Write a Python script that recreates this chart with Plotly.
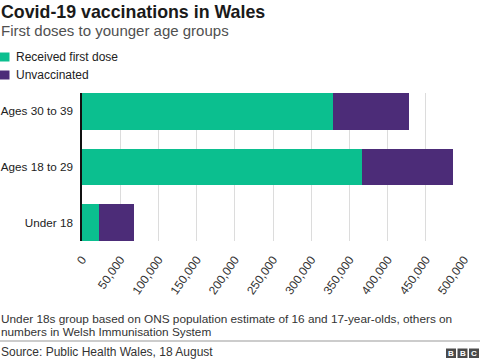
import plotly.graph_objects as go

# Data
categories = ["Under 18", "Ages 18 to 29", "Ages 30 to 39"]
first_dose = [21600, 367000, 328700]
unvaccinated = [46700, 118000, 99700]
series_names = ["Received first dose", "Unvaccinated"]
series_colors = ["#0BBF8F", "#4C2C78"]
x_ticks = [0, 50000, 100000, 150000, 200000, 250000, 300000, 350000, 400000, 450000, 500000]
x_tick_labels = ["0", "50,000", "100,000", "150,000", "200,000", "250,000",
                 "300,000", "350,000", "400,000", "450,000", "500,000"]

W, H = 480, 362
ML, MR, MT, MB = 82, 16, 93, 121
PW = W - ML - MR
PH = H - MT - MB


def px(x):
    return (x - ML) / PW


def py(y):
    return (H - MB - y) / PH


FONT = "Liberation Sans, Arial, sans-serif"

fig = go.Figure()
for name, vals, col in zip(series_names, [first_dose, unvaccinated], series_colors):
    fig.add_trace(go.Bar(
        y=categories, x=vals, name=name, orientation="h",
        marker=dict(color=col, line=dict(width=0)),
        hoverinfo="x+name",
    ))

shapes = []
annotations = []

# Title / subtitle
annotations.append(dict(text="<b>Covid-19 vaccinations in Wales</b>", x=px(-1), y=py(11.5),
                        xref="paper", yref="paper", xanchor="left", yanchor="middle",
                        showarrow=False, font=dict(family=FONT, size=17.8, color="#1a1a1a")))
annotations.append(dict(text="First doses to younger age groups", x=px(-1), y=py(30),
                        xref="paper", yref="paper", xanchor="left", yanchor="middle",
                        showarrow=False, font=dict(family=FONT, size=15, color="#505050")))

# Legend (manual, from series lists)
leg_y = [57, 75]
for name, col, yy in zip(series_names, series_colors, leg_y):
    shapes.append(dict(type="rect", xref="paper", yref="paper",
                       x0=px(0), x1=px(9.5), y0=py(yy - 4.5), y1=py(yy + 4.5),
                       fillcolor=col, line=dict(width=0)))
    annotations.append(dict(text=name, x=px(13.5), y=py(yy), xref="paper", yref="paper",
                            xanchor="left", yanchor="middle", showarrow=False,
                            font=dict(family=FONT, size=12, color="#222222")))

# Footnote
annotations.append(dict(text="Under 18s group based on ONS population estimate of 16 and 17-year-olds, others on",
                        x=px(-1), y=py(318.5), xref="paper", yref="paper", xanchor="left", yanchor="middle",
                        showarrow=False, font=dict(family=FONT, size=11.8, color="#333333")))
annotations.append(dict(text="numbers in Welsh Immunisation System",
                        x=px(-1), y=py(331.5), xref="paper", yref="paper", xanchor="left", yanchor="middle",
                        showarrow=False, font=dict(family=FONT, size=11.8, color="#333333")))
shapes.append(dict(type="line", xref="paper", yref="paper", x0=px(0), x1=px(480),
                   y0=py(341), y1=py(341), line=dict(color="#999999", width=1)))
annotations.append(dict(text="Source: Public Health Wales, 18 August",
                        x=px(-1), y=py(351.5), xref="paper", yref="paper", xanchor="left", yanchor="middle",
                        showarrow=False, font=dict(family=FONT, size=12, color="#333333")))

# BBC blocks
for i, letter in enumerate("BBC"):
    x0 = 446 + i * 11.5
    shapes.append(dict(type="rect", xref="paper", yref="paper",
                       x0=px(x0), x1=px(x0 + 10), y0=py(348.5), y1=py(358),
                       fillcolor="#4a4a4a", line=dict(width=0)))
    annotations.append(dict(text="<b>%s</b>" % letter, x=px(x0 + 5), y=py(353.3),
                            xref="paper", yref="paper", xanchor="center", yanchor="middle",
                            showarrow=False, font=dict(family=FONT, size=8, color="#ffffff")))

fig.update_layout(
    width=W, height=H,
    margin=dict(l=ML, r=MR, t=MT, b=MB, pad=0, autoexpand=False),
    barmode="stack", bargap=0.34,
    showlegend=False,
    plot_bgcolor="white", paper_bgcolor="white",
    font=dict(family=FONT, size=12, color="#222222"),
    shapes=shapes, annotations=annotations,
    xaxis=dict(range=[0, 500000], tickvals=x_ticks, ticktext=x_tick_labels,
               tickangle=-55, showgrid=True, gridcolor="#dcdcdc", gridwidth=1,
               zeroline=False, showline=False, ticks="outside", ticklen=6,
               tickcolor="rgba(0,0,0,0)", tickfont=dict(size=12, color="#333333"),
               fixedrange=True, automargin=False),
    yaxis=dict(categoryorder="array", categoryarray=categories, range=[-0.33, 2.33],
               showline=True, linecolor="#111111", linewidth=1.5, showgrid=False,
               zeroline=False, ticks="outside", ticklen=5, tickcolor="rgba(0,0,0,0)",
               tickfont=dict(size=11.7, color="#222222"), fixedrange=True, automargin=False),
)

fig.write_html("out.html", config={"displayModeBar": False},
               post_script="document.body.style.margin='0';document.body.style.overflow='hidden';")
